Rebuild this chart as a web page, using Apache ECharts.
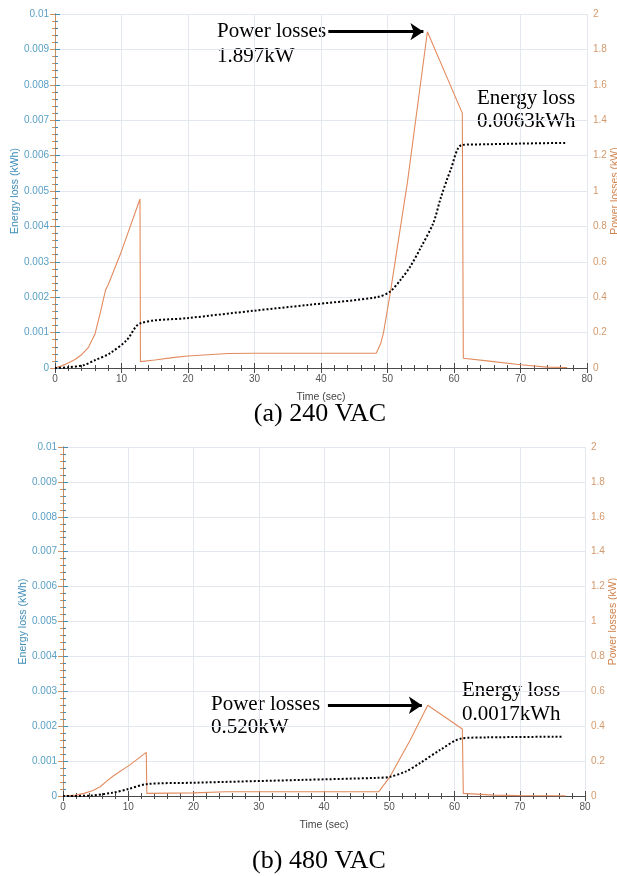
<!DOCTYPE html>
<html>
<head>
<meta charset="utf-8">
<script src="https://cdn.jsdelivr.net/npm/echarts@6/dist/echarts.min.js"></script>
<style>
  html, body { margin: 0; padding: 0; background: #fff; }
  #chart { width: 617px; height: 876px; }
</style>
</head>
<body>
<div id="chart"></div>
<script>
// (a) 240 VAC - power losses (kW)
var timeA_P  = [0, 1, 2, 3, 4, 5, 6, 6.8, 7.6, 8, 10, 12.78, 12.85, 15, 18, 20, 23, 26, 30, 48.3, 49, 49.4, 50.4, 53, 56, 61.25, 61.4, 65, 70, 74, 77];
var powerA   = [0, 0.012, 0.028, 0.048, 0.075, 0.115, 0.19, 0.31, 0.44, 0.47, 0.66, 0.955, 0.036, 0.045, 0.06, 0.068, 0.075, 0.082, 0.083, 0.083, 0.14, 0.2, 0.42, 1.05, 1.9, 1.44, 0.055, 0.04, 0.018, 0.005, 0.003];
// (a) 240 VAC - energy loss (kWh)
var timeA_E  = [0, 2, 4.3, 6, 8.3, 10.8, 12.8, 20, 30, 38, 48.4, 50.4, 52, 53.4, 55, 56.9, 58, 59.5, 61.2, 65, 70, 77];
var energyA  = [0, 0.00002, 0.00008, 0.00022, 0.00042, 0.00079, 0.00126, 0.00141, 0.00162, 0.00178, 0.002, 0.00216, 0.0025, 0.00286, 0.0034, 0.0041, 0.0048, 0.0056, 0.0063, 0.00632, 0.00634, 0.00636];

// (b) 480 VAC - power losses (kW)
var timeB_P  = [0, 2, 3.2, 4.5, 5.7, 6.7, 7.75, 10.3, 12.76, 12.85, 20, 25, 48.4, 50.1, 53.2, 55.9, 61.2, 61.35, 66, 70, 77];
var powerB   = [0, 0.005, 0.015, 0.03, 0.053, 0.085, 0.116, 0.18, 0.25, 0.015, 0.018, 0.024, 0.025, 0.11, 0.32, 0.52, 0.384, 0.015, 0.005, 0.002, 0.001];
// (b) 480 VAC - energy loss (kWh)
var timeB_E  = [0, 4, 7.75, 10, 12.8, 20, 36.4, 48.1, 50.1, 52.5, 54.7, 57.8, 61.1, 65, 76.7];
var energyB  = [0, 0.00001, 0.0001, 0.0002, 0.00034, 0.00038, 0.00046, 0.00052, 0.00055, 0.0007, 0.00094, 0.00132, 0.00165, 0.00168, 0.0017];

// 标注 (箭头指向峰值)
var peakA = [56, 1.9];
var peakB = [55.6, 0.52];

function zip(xs, ys) {
	var out = [];
	for (var i = 0; i < xs.length; i++) {
		out.push([xs[i], ys[i]]);
	}
	return out;
}

var leftColor = '#3f8db8';
var rightColor = '#cf8e5c';
var lineColor = '#e28b5e';
var gridColor = '#e2e8ee';
var sansFont = 'Liberation Sans';
var serifFont = 'Liberation Serif';

function xBottom(gridIndex) {
	return {
		type: 'value', gridIndex: gridIndex, position: 'bottom',
		min: 0, max: 80, interval: 10,
		name: 'Time (sec)', nameLocation: 'middle', nameGap: 24,
		nameTextStyle: { color: '#444', fontSize: 10.5, fontFamily: sansFont },
		axisLine: { lineStyle: { color: '#4a4a4a', width: 1 } },
		axisTick: { inside: true, length: 5, lineStyle: { color: '#4a4a4a' } },
		minorTick: { show: true, splitNumber: 5, length: 3, lineStyle: { color: '#4a4a4a' } },
		axisLabel: { color: '#555', fontSize: 10, fontFamily: sansFont, margin: 6 },
		splitLine: { show: true, lineStyle: { color: gridColor, width: 1 } }
	};
}

function xTop(gridIndex) {
	return {
		type: 'value', gridIndex: gridIndex, position: 'top',
		min: 0, max: 80, interval: 10,
		axisLine: { lineStyle: { color: '#4a4a4a', width: 1 } },
		axisTick: { inside: true, length: 5, lineStyle: { color: '#4a4a4a' } },
		minorTick: { show: true, splitNumber: 5, length: 3, lineStyle: { color: '#4a4a4a' } },
		axisLabel: { show: false },
		splitLine: { show: false }
	};
}

function yLeft(gridIndex) {
	return {
		type: 'value', gridIndex: gridIndex, position: 'left',
		min: 0, max: 0.01, interval: 0.001,
		name: 'Energy loss (kWh)', nameLocation: 'middle', nameGap: 34, nameRotate: 90,
		nameMoveOverlap: false,
		nameTextStyle: { color: leftColor, fontSize: 10.5, fontFamily: sansFont },
		axisLine: { show: true, lineStyle: { color: leftColor, width: 1 } },
		axisTick: { show: true, inside: true, length: 5, lineStyle: { color: leftColor } },
		minorTick: { show: true, splitNumber: 5, length: 3, lineStyle: { color: leftColor } },
		axisLabel: {
			color: '#5a9fc4', fontSize: 10, fontFamily: sansFont, margin: 6,
			formatter: function (v) { return v === 0 ? '0' : String(parseFloat(v.toFixed(3))); }
		},
		splitLine: { show: true, lineStyle: { color: gridColor, width: 1 } }
	};
}

function yRight(gridIndex) {
	return {
		type: 'value', gridIndex: gridIndex, position: 'right',
		min: 0, max: 2, interval: 0.2,
		name: 'Power losses (kW)', nameLocation: 'middle', nameGap: 23, nameRotate: 90,
		nameMoveOverlap: false,
		nameTextStyle: { color: '#d0844f', fontSize: 10.5, fontFamily: sansFont },
		axisLine: { show: true, lineStyle: { color: rightColor, width: 1 } },
		axisTick: { show: true, inside: true, length: 5, lineStyle: { color: rightColor } },
		minorTick: { show: true, splitNumber: 5, length: 3, lineStyle: { color: rightColor } },
		axisLabel: {
			color: '#d39a6e', fontSize: 10, fontFamily: sansFont, margin: 6,
			formatter: function (v) { return v === 0 ? '0' : String(parseFloat(v.toFixed(1))); }
		},
		splitLine: { show: false }
	};
}

function arrowLine(fromX, peak) {
	return {
		silent: true,
		symbol: ['none', 'arrow'],
		symbolSize: 13,
		label: { show: false },
		lineStyle: { color: '#000', width: 3, type: 'solid' },
		data: [[{ coord: [fromX, peak[1]] }, { coord: [peak[0] - 0.6, peak[1]] }]]
	};
}

function txt(x, y, text, size) {
	return {
		type: 'text', x: x, y: y, silent: true,
		style: { text: text, font: size + 'px "' + serifFont + '"', fill: '#000', textVerticalAlign: 'middle' }
	};
}

var chart = echarts.init(document.getElementById('chart'), null, { renderer: 'canvas' });

var option = {
	backgroundColor: '#fff',
	animation: false,
	grid: [
		{ left: 55, top: 14, width: 532, height: 354, containLabel: false, outerBoundsMode: 'none' },
		{ left: 63, top: 447, width: 522, height: 349, containLabel: false, outerBoundsMode: 'none' }
	],
	xAxis: [xBottom(0), xTop(0), xBottom(1), xTop(1)],
	yAxis: [yLeft(0), yRight(0), yLeft(1), yRight(1)],
	series: [
		{
			name: 'Power A', type: 'line', xAxisIndex: 0, yAxisIndex: 1,
			data: zip(timeA_P, powerA), showSymbol: false, smooth: false,
			lineStyle: { color: lineColor, width: 1.1 },
			markLine: arrowLine(41.1, peakA)
		},
		{
			name: 'Energy A', type: 'line', xAxisIndex: 0, yAxisIndex: 0,
			data: zip(timeA_E, energyA), showSymbol: false, smooth: 0.3,
			lineStyle: { color: '#000', width: 2, type: [2, 2] }
		},
		{
			name: 'Power B', type: 'line', xAxisIndex: 2, yAxisIndex: 3,
			data: zip(timeB_P, powerB), showSymbol: false, smooth: false,
			lineStyle: { color: lineColor, width: 1.1 },
			markLine: arrowLine(40.6, peakB)
		},
		{
			name: 'Energy B', type: 'line', xAxisIndex: 2, yAxisIndex: 2,
			data: zip(timeB_E, energyB), showSymbol: false, smooth: 0.3,
			lineStyle: { color: '#000', width: 2, type: [2, 2] }
		}
	],
	graphic: [
		txt(217, 31, 'Power losses', 21),
		txt(217, 56, '1.897kW', 21),
		txt(477, 98, 'Energy loss', 21),
		txt(477, 121, '0.0063kWh', 21),
		txt(211, 704, 'Power losses', 21),
		txt(211, 727, '0.520kW', 21),
		txt(462, 690, 'Energy loss', 21),
		txt(462, 714, '0.0017kWh', 21),
		{
			type: 'text', x: 320, y: 414, silent: true,
			style: { text: '(a) 240 VAC', font: '26px "' + serifFont + '"', fill: '#000', textAlign: 'center', textVerticalAlign: 'middle' }
		},
		{
			type: 'text', x: 319, y: 861, silent: true,
			style: { text: '(b) 480 VAC', font: '26px "' + serifFont + '"', fill: '#000', textAlign: 'center', textVerticalAlign: 'middle' }
		}
	]
};

chart.setOption(option);
</script>
</body>
</html>
